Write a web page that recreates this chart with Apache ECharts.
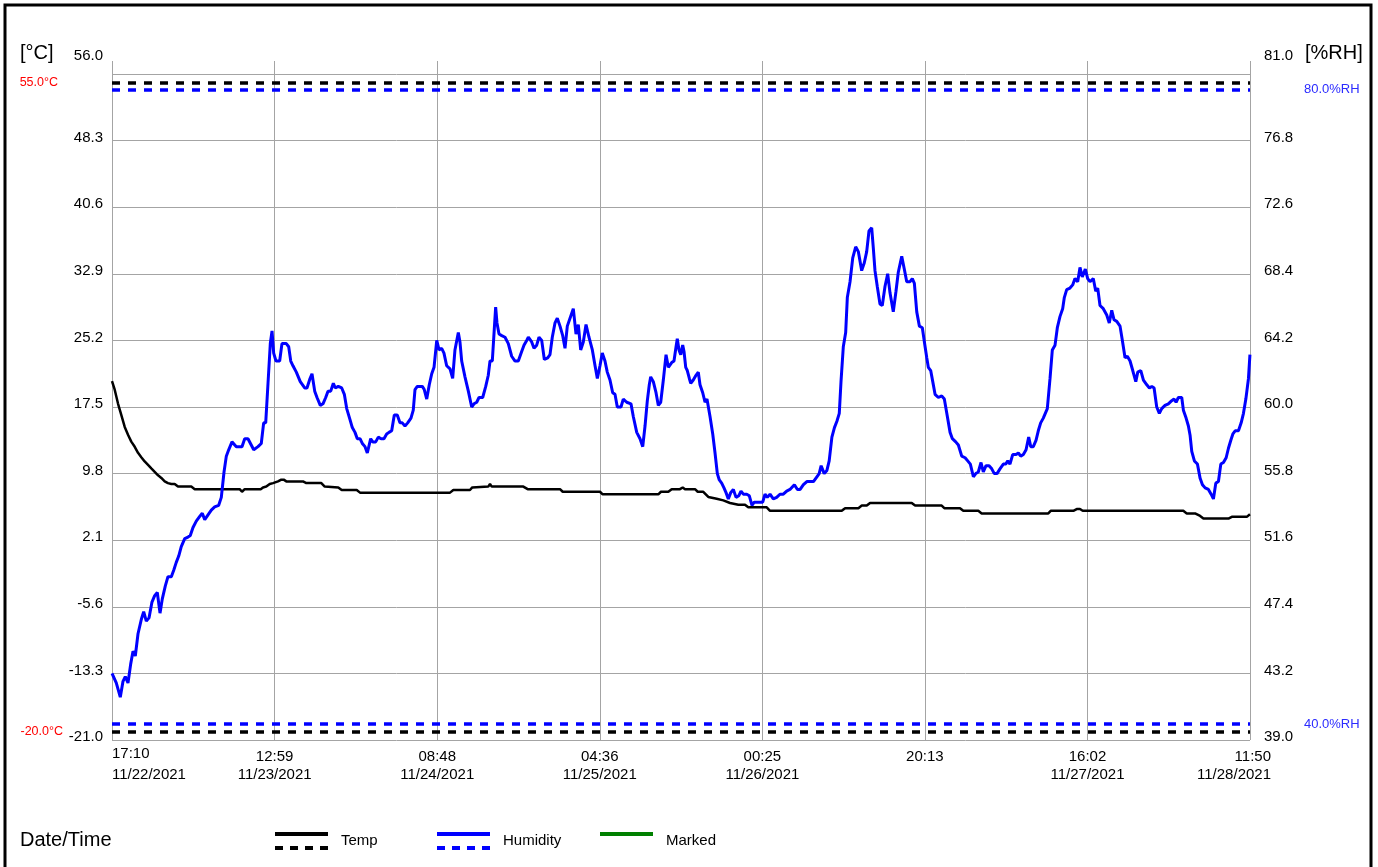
<!DOCTYPE html>
<html><head><meta charset="utf-8">
<script src="https://cdn.jsdelivr.net/npm/echarts@6/dist/echarts.min.js"></script>
<style>html,body{margin:0;padding:0;background:#fff}#c{width:1378px;height:867px}</style>
</head><body><div id="c"></div><script>
const FONT = '"Liberation Sans", Arial, sans-serif';
// x tick times and their two-line labels
const tickTimes = ['2021-11-22T17:10','2021-11-23T12:59','2021-11-24T08:48','2021-11-25T04:36','2021-11-26T00:25','2021-11-26T20:13','2021-11-27T16:02','2021-11-28T11:50'];
const tickLabels = [['17:10','11/22/2021'],['12:59','11/23/2021'],['08:48','11/24/2021'],['04:36','11/25/2021'],['00:25','11/26/2021'],['20:13',''],['16:02','11/27/2021'],['11:50','11/28/2021']];
const tempTicks = [-21.0,-13.3,-5.6,2.1,9.8,17.5,25.2,32.9,40.6,48.3,56.0];
const humTicks = [39.0,43.2,47.4,51.6,55.8,60.0,64.2,68.4,72.6,76.8,81.0];
const tempLimits = [55, -20];
const humLimits = [80, 40];
// [hours since 11/22/2021 17:10, value]
const temperature = [[0,20.5],[0.33,19.5],[0.73,17.9],[1.13,16.6],[1.55,15.2],[1.95,14.3],[2.35,13.5],[2.77,12.9],[3.17,12.2],[3.57,11.7],[3.98,11.2],[4.39,10.8],[4.79,10.4],[5.20,10.0],[5.61,9.6],[6.01,9.3],[6.42,8.9],[6.82,8.7],[7.23,8.6],[7.64,8.6],[8.04,8.3],[9.66,8.3],[10.08,8.0],[15.56,8.0],[15.84,7.7],[16.17,8.0],[18.12,8.0],[18.40,8.2],[18.80,8.3],[19.22,8.6],[19.62,8.7],[20.23,8.9],[20.63,9.1],[20.92,9.1],[21.24,8.9],[23.27,8.9],[23.68,8.7],[25.51,8.7],[25.92,8.3],[27.57,8.2],[27.99,7.9],[29.82,7.9],[30.22,7.6],[41.19,7.6],[41.59,7.9],[43.62,7.9],[43.90,8.2],[45.85,8.3],[46.06,8.6],[46.27,8.3],[50.12,8.3],[50.65,8.0],[54.59,8.0],[54.92,7.7],[59.46,7.7],[59.79,7.4],[66.57,7.4],[66.89,7.7],[67.79,7.7],[68.20,8.0],[69.21,8.0],[69.54,8.2],[69.82,8.0],[71.04,8.0],[71.37,7.7],[72.05,7.7],[72.66,7.1],[73.68,6.9],[74.49,6.7],[75.31,6.4],[76.32,6.2],[77.13,6.2],[77.53,5.9],[79.78,5.9],[80.18,5.5],[88.92,5.5],[89.33,5.8],[90.95,5.8],[91.36,6.1],[91.97,6.1],[92.37,6.4],[97.45,6.4],[97.86,6.1],[101.10,6.1],[101.42,5.8],[103.33,5.8],[103.73,5.5],[105.56,5.5],[105.97,5.2],[114.09,5.2],[114.38,5.5],[117.14,5.5],[117.55,5.7],[117.95,5.7],[118.28,5.5],[130.54,5.5],[130.96,5.2],[131.97,5.2],[132.59,4.9],[132.99,4.6],[136.04,4.6],[136.45,4.8],[138.28,4.8],[138.66,5.1]];
const humidity = [[0,43.2],[0.52,42.6],[1.01,41.7],[1.34,42.7],[1.62,43.0],[1.95,42.6],[2.28,43.8],[2.56,44.6],[2.84,44.3],[3.17,45.7],[3.57,46.6],[3.86,47.1],[4.18,46.5],[4.51,46.7],[4.87,47.7],[5.20,48.1],[5.52,48.3],[5.85,47.0],[6.13,47.9],[6.49,48.7],[6.82,49.3],[7.23,49.3],[7.52,49.7],[7.83,50.2],[8.13,50.6],[8.44,51.2],[8.86,51.7],[9.26,51.8],[9.54,51.9],[9.87,52.4],
[10.27,52.8],[10.69,53.1],[11.00,53.3],[11.30,52.9],[11.70,53.2],[12.10,53.5],[12.51,53.7],[13.00,53.8],[13.32,54.3],[13.65,55.9],[13.93,56.9],[14.22,57.3],[14.62,57.8],[15.15,57.5],[15.84,57.5],[16.17,58.0],[16.57,58.0],[17.27,57.3],[17.79,57.5],[18.19,57.7],[18.48,59.0],[18.73,59.0],[19.01,61.5],[19.29,64.0],[19.50,64.8],[19.70,63.4],[19.98,62.9],[20.43,62.9],[20.71,64.0],[21.24,64.0],[21.53,63.8],[21.78,62.9],[22.05,62.6],[22.46,62.2],[22.94,61.6],[23.48,61.2],[23.76,61.2],[24.13,61.8],[24.37,62.1],[24.70,61.0],[24.98,60.6],[25.38,60.1],[25.71,60.2],[26.04,60.6],[26.32,61.0],[26.65,61.0],[26.97,61.5],[27.21,61.2],[27.57,61.3],[27.99,61.2],
[28.31,60.8],[28.60,59.9],[29.00,59.2],[29.28,58.7],[29.61,58.4],[29.89,58.0],[30.22,58.0],[30.50,57.7],[30.83,57.5],[31.11,57.1],[31.52,58.0],[31.77,57.8],[32.13,57.8],[32.45,58.1],[32.78,58.0],[33.14,58.0],[33.47,58.3],[33.75,58.4],[34.08,58.5],[34.40,59.5],[34.76,59.5],[35.09,59.0],[35.37,59.0],[35.70,58.8],[36.03,59.0],[36.43,59.3],[36.71,59.8],[36.92,61.1],[37.20,61.3],[37.81,61.3],[38.05,61.1],[38.35,60.5],[38.66,61.4],[38.96,62.1],[39.24,62.5],[39.57,64.2],[39.85,63.6],[40.17,63.7],[40.45,63.4],[40.78,62.6],[41.19,62.4],[41.51,61.8],[41.79,63.6],[42.20,64.7],[42.40,64.1],[42.61,62.9],[43.01,61.9],[43.42,61.0],[43.83,60.0],[44.11,60.2],
[44.44,60.3],[44.72,60.6],[44.93,60.5],[45.17,60.6],[45.54,61.3],[45.85,62.0],[46.06,62.9],[46.34,62.9],[46.58,64.9],[46.75,66.3],[46.91,65.3],[47.16,64.6],[47.49,64.5],[47.89,64.4],[48.29,64.0],[48.70,63.2],[49.11,62.9],[49.51,62.9],[49.92,63.5],[50.20,63.9],[50.53,64.2],[50.73,64.4],[51.14,64.1],[51.42,63.7],[51.75,63.9],[52.03,64.4],[52.36,64.2],[52.68,63.0],[53.09,63.1],[53.37,63.3],[53.65,64.4],[53.98,65.3],[54.26,65.6],[54.59,65.1],[54.92,64.5],[55.20,63.7],[55.48,65.1],[55.81,65.6],[56.21,66.2],[56.54,64.6],[56.82,65.2],[57.11,63.6],[57.43,64.1],[57.76,65.2],[58.12,64.4],[58.53,63.6],[58.86,62.6],[59.14,61.8],[59.46,62.6],[59.74,63.4],
[60.07,62.9],[60.35,62.2],[60.68,61.7],[61.01,60.9],[61.29,60.8],[61.57,60.0],[62.02,60.0],[62.30,60.5],[62.72,60.3],[63.24,60.2],[63.52,59.4],[63.94,58.4],[64.34,58.0],[64.67,57.5],[64.95,58.8],[65.23,60.4],[65.47,61.4],[65.64,61.9],[65.96,61.6],[66.29,60.9],[66.57,60.1],[66.86,60.3],[67.18,61.7],[67.51,63.3],[67.79,62.5],[68.20,62.8],[68.48,62.9],[68.73,63.8],[68.88,64.3],[69.09,63.6],[69.30,63.3],[69.54,63.9],[69.70,63.5],[69.91,62.5],[70.10,62.3],[70.35,61.8],[70.52,61.5],[70.83,61.7],[71.16,62.0],[71.44,62.2],[71.65,61.4],[71.98,60.9],[72.26,60.3],[72.50,60.5],[72.66,60.4],[72.87,59.4],[73.20,58.3],[73.48,57.1],[73.76,55.8],[74.00,55.4],
[74.29,55.2],[74.57,54.9],[74.82,54.6],[75.10,54.2],[75.39,54.6],[75.71,54.8],[76.04,54.3],[76.37,54.4],[76.64,54.7],[76.93,54.5],[77.34,54.5],[77.66,54.4],[77.98,53.8],[78.26,54.0],[78.63,54.0],[78.96,54.0],[79.29,54.0],[79.57,54.5],[79.85,54.3],[80.18,54.5],[80.58,54.2],[80.99,54.3],[81.39,54.5],[81.80,54.5],[82.21,54.7],[82.61,54.8],[83.15,55.1],[83.52,54.8],[83.85,54.8],[84.25,55.1],[84.67,55.3],[85.47,55.3],[85.89,55.6],[86.17,55.8],[86.41,56.3],[86.78,55.8],[87.11,56.0],[87.39,56.6],[87.72,58.1],[88.03,58.7],[88.33,59.1],[88.62,59.6],[88.83,61.6],[89.11,63.8],[89.40,64.7],[89.60,66.9],[89.93,67.9],[90.26,69.4],[90.62,70.1],[90.94,69.8],
[91.35,68.6],[91.67,69.1],[91.96,69.8],[92.24,71.1],[92.57,71.3],[92.77,70.0],[92.97,68.6],[93.25,67.6],[93.58,66.5],[93.86,66.4],[94.19,67.6],[94.52,68.4],[94.80,67.2],[95.20,66.0],[95.53,67.3],[95.81,68.5],[96.23,69.5],[96.54,68.7],[96.84,67.9],[97.24,67.9],[97.52,68.1],[97.77,67.8],[98.06,66.0],[98.38,65.1],[98.74,65.0],[98.99,64.1],[99.28,63.1],[99.47,62.5],[99.76,62.3],[100.01,61.6],[100.29,60.8],[100.69,60.6],[101.10,60.7],[101.42,60.5],[101.72,59.6],[102.12,58.4],[102.40,58.0],[102.81,57.8],[103.13,57.6],[103.54,56.9],[103.95,56.8],[104.27,56.6],[104.59,56.4],[104.96,55.6],[105.25,55.8],[105.56,55.9],[105.89,56.5],[106.17,55.9],[106.50,56.3],[106.87,56.3],
[107.20,56.1],[107.51,55.8],[107.84,55.8],[108.20,56.1],[108.61,56.4],[108.90,56.4],[109.15,56.6],[109.42,56.4],[109.75,57.0],[110.16,57.0],[110.44,57.1],[110.73,56.9],[111.05,57.0],[111.38,57.3],[111.70,58.1],[111.95,57.5],[112.26,57.5],[112.59,57.9],[112.87,58.5],[113.16,59.0],[113.48,59.3],[113.97,59.9],[114.30,61.8],[114.58,63.6],[114.91,63.9],[115.19,65.0],[115.51,65.7],[115.84,66.2],[116.04,66.9],[116.33,67.4],[116.73,67.5],[117.06,67.7],[117.34,68.1],[117.67,67.9],[117.95,68.8],[118.23,68.2],[118.60,68.7],[118.89,68.1],[119.17,67.9],[119.57,68.1],[119.87,67.3],[120.11,67.5],[120.39,66.4],[120.79,66.2],[121.21,65.8],[121.52,65.3],[121.82,66.1],[122.10,65.5],[122.43,65.4],[122.83,65.1],
[123.08,64.3],[123.44,63.1],[123.72,63.2],[124.05,62.9],[124.38,62.3],[124.75,61.6],[124.99,62.2],[125.36,62.3],[125.68,61.7],[126.09,61.4],[126.41,61.2],[126.70,61.3],[126.98,61.2],[127.30,60.0],[127.62,59.6],[127.91,59.9],[128.31,60.1],[128.72,60.2],[129.13,60.4],[129.41,60.5],[129.66,60.3],[129.94,60.6],[130.35,60.6],[130.55,59.8],[130.88,59.3],[131.16,58.8],[131.37,58.2],[131.57,57.2],[131.89,56.6],[132.26,56.4],[132.59,55.5],[132.87,55.1],[133.20,54.9],[133.60,54.8],[133.93,54.5],[134.21,54.2],[134.50,55.2],[134.82,55.3],[135.11,56.4],[135.43,56.5],[135.76,56.8],[136.04,57.4],[136.33,57.9],[136.58,58.3],[136.86,58.5],[137.26,58.5],[137.59,59.0],[137.87,59.6],[138.16,60.5],[138.48,61.8],[138.66,63.3]];

const GRID_C = '#a4a4a4';
const t0 = Date.parse(tickTimes[0] + ':00Z');
const tickHours = tickTimes.map(s => (Date.parse(s + ':00Z') - t0) / 3600000);
const xMax = tickHours[tickHours.length - 1];

function xLabel(v) {
  let i = 0, best = Infinity;
  tickHours.forEach((h, k) => { const d = Math.abs(h - v); if (d < best) { best = d; i = k; } });
  const [tm, dt] = tickLabels[i];
  if (i === 0) return '{fl|' + tm + '}\n{fl|' + dt + '}';
  if (i === tickLabels.length - 1) return '{lrt|' + tm + '}\n{lr|' + dt + '}';
  return dt ? '{t|' + tm + '}\n{d|' + dt + '}' : '{t|' + tm + '}';
}
function yLabel(top) {
  return v => (Math.abs(v - top) < 1e-6 ? '{top|' : '{n|') + v.toFixed(1) + '}';
}
const base = { fontSize: 15, fontFamily: FONT, color: '#000' };
const yRich = { n: Object.assign({ padding: [0, 0, 6, 0] }, base), top: Object.assign({ padding: [0, 0, 36, 0] }, base) };
const xb = Object.assign({ lineHeight: 21 }, base);
const xRich = {
  fl: Object.assign({ width: 80, align: 'left', padding: [0, 0, 0, 80] }, xb),
  lrt: Object.assign({ width: 80, align: 'right', padding: [6, 38, 0, 0] }, xb),
  lr: Object.assign({ width: 80, align: 'right', padding: [0, 38, 0, 0] }, xb),
  t: Object.assign({ padding: [6, 0, 0, 0] }, xb),
  d: Object.assign({}, xb)
};

// per-limit label tweaks: [distance from plot edge, bottom padding]
function limitLines(limits, unit, color, labelColor, pos, fontSize, tweaks) {
  return {
    silent: true, symbol: ['none', 'none'], animation: false,
    lineStyle: { color: color, type: [8, 8], width: 3.5 },
    label: { show: true, position: pos, color: labelColor, fontSize: fontSize, fontFamily: FONT, formatter: '{b}' },
    data: limits.map((v, i) => [{ coord: [0, v], name: v.toFixed(1) + unit,
      label: { distance: tweaks[i][0], padding: [0, 0, tweaks[i][1], 0] } }, { coord: [xMax, v] }])
  };
}

const legendIcon2 = 'path://M0,0H53V4H0Z M0,14H8V18H0Z M15,14H23V18H15Z M30,14H38V18H30Z M45,14H53V18H45Z';
const legendIcon1 = 'path://M0,0H53V4H0Z M0,18H0.01V18Z';
function mkLegend(name, left, icon) {
  return { data: [name], left: left, top: 832, padding: 0, itemWidth: 53, itemHeight: 18, icon: icon, selectedMode: false,
    itemStyle: { borderWidth: 0 }, textStyle: { fontSize: 15, fontFamily: FONT, color: '#000', padding: [3, 0, 0, 8] } };
}

const chart = echarts.init(document.getElementById('c'), null, { renderer: 'canvas' });
chart.setOption({
  animation: false,
  backgroundColor: '#fff',
  grid: { left: 112, right: 128, top: 74, bottom: 127 },
  legend: [mkLegend('Temp', 275, legendIcon2), mkLegend('Humidity', 437, legendIcon2), mkLegend('Marked', 600, legendIcon1)],
  xAxis: [{
    type: 'value', min: 0, max: xMax, position: 'bottom',
    axisLine: { show: false },
    axisTick: { show: false, customValues: tickHours },
    splitLine: { show: true, lineStyle: { color: GRID_C, width: 1 } },
    axisLabel: { customValues: tickHours, formatter: xLabel, rich: xRich, margin: 3, hideOverlap: false, showMinLabel: true, showMaxLabel: true }
  }, {
    type: 'value', min: 0, max: xMax, position: 'top',
    axisLine: { show: false },
    axisTick: { show: true, length: 13, inside: false, customValues: tickHours, lineStyle: { color: GRID_C, width: 1 } },
    axisLabel: { show: false }, splitLine: { show: false }
  }],
  yAxis: [{
    type: 'value', min: -21, max: 56, position: 'left',
    axisLine: { show: false },
    axisTick: { show: false, customValues: tempTicks },
    splitLine: { show: true, lineStyle: { color: GRID_C, width: 1 } },
    axisLabel: { customValues: tempTicks, formatter: yLabel(56), rich: yRich, margin: 9 }
  }, {
    type: 'value', min: 39, max: 81, position: 'right',
    axisLine: { show: false },
    axisTick: { show: true, length: 13, inside: false, customValues: humTicks, lineStyle: { color: GRID_C, width: 1 } },
    splitLine: { show: false },
    axisLabel: { customValues: humTicks, formatter: yLabel(81), rich: yRich, margin: 14 }
  }],
  series: [{
    name: 'Temp', type: 'line', xAxisIndex: 0, yAxisIndex: 0, data: temperature,
    symbol: 'none', showSymbol: false, color: '#000',
    lineStyle: { color: '#000', width: 2.5 }, z: 3,
    markLine: limitLines(tempLimits, '°C', '#000', '#ff0000', 'start', 12.5, [[54, 2], [49, 5]])
  }, {
    name: 'Humidity', type: 'line', xAxisIndex: 0, yAxisIndex: 1, data: humidity,
    symbol: 'none', showSymbol: false, color: '#0000ff',
    lineStyle: { color: '#0000ff', width: 3 }, z: 4,
    markLine: limitLines(humLimits, '%RH', '#0000ff', '#2b2bff', 'end', 13, [[54, 10], [54, 6]])
  }, {
    name: 'Marked', type: 'line', xAxisIndex: 0, yAxisIndex: 0, data: [],
    symbol: 'none', color: '#008000', lineStyle: { color: '#008000', width: 4 }
  }],
  graphic: [
    { type: 'rect', silent: true, z: 100, shape: { x: 5, y: 5, width: 1366, height: 1200 }, style: { fill: 'none', stroke: '#000', lineWidth: 3 } },
    { type: 'text', silent: true, x: 20, y: 53, style: { text: '[°C]', fontSize: 20, fontFamily: FONT, fill: '#000', verticalAlign: 'middle' } },
    { type: 'text', silent: true, x: 1305, y: 53, style: { text: '[%RH]', fontSize: 20, fontFamily: FONT, fill: '#000', verticalAlign: 'middle' } },
    { type: 'text', silent: true, x: 20, y: 840, style: { text: 'Date/Time', fontSize: 20, fontFamily: FONT, fill: '#000', verticalAlign: 'middle' } }
  ]
});
</script></body></html>
